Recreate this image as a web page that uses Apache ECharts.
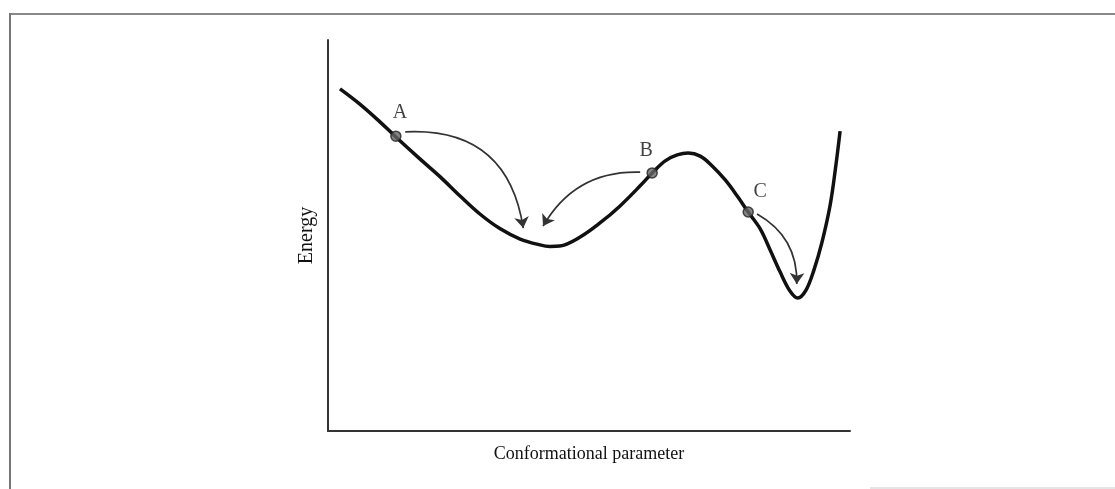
<!DOCTYPE html>
<html>
<head>
<meta charset="utf-8">
<script src="https://cdn.jsdelivr.net/npm/echarts@6/dist/echarts.min.js"></script>
<style>
  html, body { margin: 0; padding: 0; background: #fff; }
  #main { width: 1115px; height: 489px; }
</style>
</head>
<body>
<div id="main"></div>
<script>
// energy curve (x: 0-100 along the axis, y: 0-100 up the axis)
var curveX = [2.3, 6.1, 10.0, 13.0, 17.6, 21.5, 25.3, 29.1, 33.0, 36.8, 40.6, 42.5, 44.4, 48.3, 52.1, 55.9, 59.8, 62.1, 64.6, 66.9, 69.0, 71.3, 73.6, 76.1, 78.4, 80.5, 82.8, 84.7, 86.6, 88.5, 90.0, 91.6, 93.1, 94.6, 96.2, 97.3, 98.1];
var curveY = [87.5, 83.6, 79.0, 75.2, 69.6, 65.0, 60.1, 55.5, 51.7, 49.1, 47.6, 47.2, 47.3, 49.6, 53.2, 57.5, 62.7, 66.0, 69.1, 70.6, 71.1, 70.3, 67.8, 64.2, 60.1, 56.0, 51.7, 46.3, 40.7, 35.8, 34.0, 36.1, 41.2, 48.1, 57.8, 68.0, 76.7];

// marked points A, B, C
var pointNames = ['A', 'B', 'C'];
var pointX = [13.0, 62.1, 80.5];
var pointY = [75.4, 66.0, 56.0];

// arrows: start and end of each
var arrowFrom = [[14.8, 76.5], [59.8, 66.2], [82.2, 55.5]];
var arrowTo = [[37.4, 51.9], [41.2, 52.4], [89.8, 37.6]];
var arrowBend = [0.45, -0.3, 0.3];

var chart = echarts.init(document.getElementById('main'));

var curve = [];
for (var i = 0; i < curveX.length; i++) {
  curve.push([curveX[i], curveY[i]]);
}

var labelOffsets = [[4, -3], [-6, -1], [12, 0]];
var points = [];
for (var j = 0; j < pointNames.length; j++) {
  points.push({
    name: pointNames[j],
    value: [pointX[j], pointY[j]],
    label: { offset: labelOffsets[j] }
  });
}

var arrows = [];
for (var k = 0; k < arrowFrom.length; k++) {
  arrows.push({
    coords: [arrowFrom[k], arrowTo[k]],
    lineStyle: { curveness: arrowBend[k] }
  });
}

var serifFont = '"Liberation Serif", "DejaVu Serif", serif';

var option = {
  backgroundColor: '#fff',
  animation: false,
  grid: {
    left: 328,
    top: 40,
    width: 522,
    height: 391
  },
  xAxis: {
    type: 'value',
    min: 0,
    max: 100,
    name: 'Conformational parameter',
    nameLocation: 'middle',
    nameGap: 14,
    nameTextStyle: { fontFamily: serifFont, fontSize: 18, color: '#111', verticalAlign: 'top' },
    axisLine: { show: true, lineStyle: { color: '#333', width: 2 } },
    axisTick: { show: false },
    axisLabel: { show: false },
    splitLine: { show: false }
  },
  yAxis: {
    type: 'value',
    min: 0,
    max: 100,
    name: 'Energy',
    nameLocation: 'middle',
    nameGap: 11,
    nameTextStyle: { fontFamily: serifFont, fontSize: 20, color: '#111' },
    axisLine: { show: true, lineStyle: { color: '#333', width: 2 } },
    axisTick: { show: false },
    axisLabel: { show: false },
    splitLine: { show: false }
  },
  series: [
    {
      name: 'energy',
      type: 'line',
      data: curve,
      smooth: 0.35,
      showSymbol: false,
      lineStyle: { color: '#111', width: 3.5 },
      z: 2
    },
    {
      name: 'arrows',
      type: 'lines',
      coordinateSystem: 'cartesian2d',
      data: arrows,
      symbol: ['none', 'arrow'],
      symbolSize: [0, 11],
      lineStyle: { color: '#333', width: 1.7, opacity: 1 },
      z: 3
    },
    {
      name: 'points',
      type: 'scatter',
      data: points,
      symbolSize: 10,
      itemStyle: { color: '#666', borderColor: '#222', borderWidth: 1.5 },
      label: {
        show: true,
        position: 'top',
        formatter: '{b}',
        fontFamily: serifFont,
        fontSize: 20,
        color: '#111'
      },
      z: 4
    }
  ],
  graphic: [
    { type: 'line', shape: { x1: 10, y1: 14, x2: 1115, y2: 14 }, style: { stroke: '#888', lineWidth: 2 } },
    { type: 'line', shape: { x1: 10, y1: 13, x2: 10, y2: 489 }, style: { stroke: '#777', lineWidth: 2 } },
    { type: 'line', shape: { x1: 870, y1: 488, x2: 1115, y2: 488 }, style: { stroke: '#ccc', lineWidth: 1 } }
  ]
};

chart.setOption(option);
</script>
</body>
</html>
